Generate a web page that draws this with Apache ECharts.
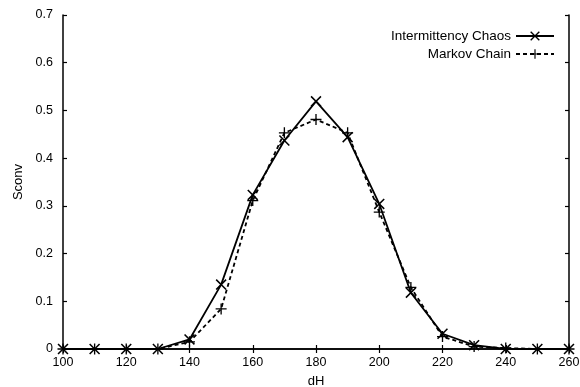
<!DOCTYPE html>
<html>
<head>
<meta charset="utf-8">
<script src="https://cdn.jsdelivr.net/npm/echarts@6/dist/echarts.min.js"></script>
<style>html,body{margin:0;padding:0;background:#fff}#c{width:580px;height:387px}</style>
</head>
<body>
<div id="c"></div>
<script>
var dH = [100,110,120,130,140,150,160,170,180,190,200,210,220,230,240,250,260];
var chaos = [0,0,0,0,0.02,0.135,0.323,0.437,0.519,0.444,0.304,0.118,0.032,0.008,0,0,0];
var markov = [0,0,0,0,0.015,0.084,0.311,0.453,0.481,0.453,0.287,0.129,0.026,0.005,0.002,0,0];
var xTicks = [100,120,140,160,180,200,220,240,260];
var yTicks = [0,0.1,0.2,0.3,0.4,0.5,0.6,0.7];

var font = 'Liberation Sans, Arial, sans-serif';
var X_SYM = 'path://M0,1L1,0L10,9L9,10Z M9,0L10,1L1,10L0,9Z';
var P_SYM = 'path://M4.4,0H5.6V4.4H10V5.6H5.6V10H4.4V5.6H0V4.4H4.4Z';

function pairs(xs, ys){ return xs.map(function(x,i){ return [x, ys[i]]; }); }

var chart = echarts.init(document.getElementById('c'), null, {renderer:'canvas'});
var axisCommon = {
  axisLine:{show:true, lineStyle:{color:'#000', width:1.5}},
  axisTick:{show:true, inside:true, length:4, lineStyle:{color:'#000', width:1.2}},
  splitLine:{show:false}
};
chart.setOption({
  animation:false,
  backgroundColor:'#fff',
  grid:{left:63, right:11, top:15, bottom:38, containLabel:false, outerBoundsMode:'none'},
  legend:{
    orient:'vertical', right:20, top:24, align:'right',
    itemWidth:38, itemHeight:12, itemGap:4,
    textStyle:{fontFamily:font, fontSize:13.5, color:'#000'},
    data:['Intermittency Chaos','Markov Chain']
  },
  xAxis:[
    Object.assign({type:'value', min:xTicks[0], max:xTicks[xTicks.length-1], interval:20,
      name:'dH', nameLocation:'middle', nameGap:26,
      nameTextStyle:{fontFamily:font, fontSize:13, color:'#000'},
      axisLabel:{fontFamily:font, fontSize:12.5, color:'#000', margin:7,
        formatter:function(v){ return xTicks.indexOf(v)>=0 ? String(v) : ''; }}
    }, axisCommon),
    Object.assign({type:'value', position:'top', min:100, max:260, interval:20,
      axisLabel:{show:false}}, axisCommon)
  ],
  yAxis:[
    Object.assign({type:'value', min:yTicks[0], max:yTicks[yTicks.length-1], interval:0.1,
      name:'Sconv', nameLocation:'middle', nameGap:34,
      nameTextStyle:{fontFamily:font, fontSize:13, color:'#000'},
      axisLabel:{fontFamily:font, fontSize:12.5, color:'#000', margin:10,
        formatter:function(v){ return String(Math.round(v*10)/10); }}
    }, axisCommon),
    Object.assign({type:'value', position:'right', min:0, max:0.7, interval:0.1,
      axisLabel:{show:false}}, axisCommon)
  ],
  series:[
    {name:'Intermittency Chaos', type:'line', data:pairs(dH, chaos),
     symbol:X_SYM, symbolSize:11, showAllSymbol:true,
     lineStyle:{color:'#000', width:1.8, type:'solid'},
     itemStyle:{color:'#000'}},
    {name:'Markov Chain', type:'line', data:pairs(dH, markov),
     symbol:P_SYM, symbolSize:11, showAllSymbol:true,
     lineStyle:{color:'#000', width:1.8, type:[4,3]},
     itemStyle:{color:'#000'}}
  ]
});
</script>
</body>
</html>
